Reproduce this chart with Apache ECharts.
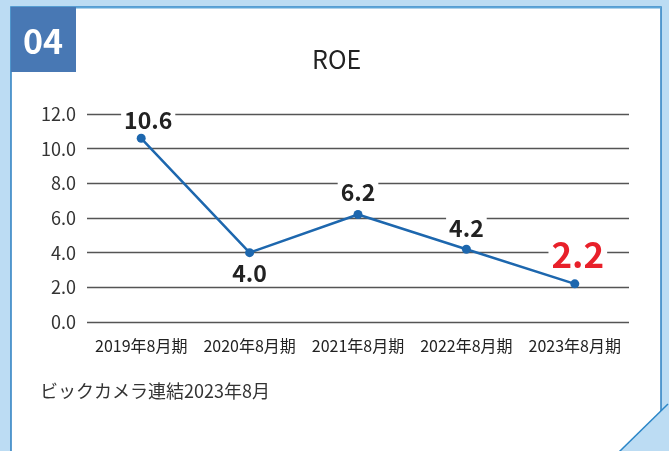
<!DOCTYPE html>
<html lang="ja">
  <head>
    <meta charset="UTF-8" />
    <title>ROE</title>
    <script src="https://cdn.jsdelivr.net/npm/echarts@6/dist/echarts.min.js"></script>
    <style>
      html, body { margin: 0; padding: 0; background: #bcdcf3; }
      #main { width: 669px; height: 451px; }
    </style>
  </head>
  <body>
    <div id="main"></div>
    <script>
      const categories = ['2019年8月期', '2020年8月期', '2021年8月期', '2022年8月期', '2023年8月期'];
      const roe = [10.6, 4.0, 6.2, 4.2, 2.2];
      const yTicks = { min: 0, max: 12, interval: 2 };

      const font = '"Noto Sans CJK JP", "Noto Sans", sans-serif';
      const lineColor = '#1d67ae';

      // label placement per point (top or bottom), last one highlighted
      const labelPos = ['top', 'bottom', 'top', 'top', 'top'];
      const labelDist = [2, 4.5, 6, 4.5, 7];
      const labelShift = [[7, 0], [0, 0], [0, 0], [0, 0], [3, 0]];

      const points = roe.map((v, i) => {
        const last = i === roe.length - 1;
        return {
          value: v,
          label: {
            show: true,
            position: labelPos[i],
            distance: labelDist[i],
            offset: labelShift[i],
            formatter: (p) => p.value.toFixed(1),
            fontFamily: font,
            fontWeight: 'bold',
            fontSize: last ? 35 : 23,
            color: last ? '#e8202a' : '#222',
            backgroundColor: '#fff',
            padding: [0, 3],
            lineHeight: last ? 36 : 24
          }
        };
      });

      const chart = echarts.init(document.getElementById('main'));
      chart.setOption({
        animation: false,
        title: {
          text: 'ROE',
          left: 307,
          top: 42,
          textStyle: { fontFamily: font, fontWeight: 'normal', fontSize: 25, color: '#222' }
        },
        grid: { left: 87, right: 40, top: 114, bottom: 129 },
        xAxis: {
          type: 'category',
          data: categories,
          boundaryGap: true,
          axisLine: { show: false },
          axisTick: { show: false },
          axisLabel: { fontFamily: font, fontSize: 16, color: '#222', margin: 16, interval: 0 }
        },
        yAxis: {
          type: 'value',
          min: yTicks.min,
          max: yTicks.max,
          interval: yTicks.interval,
          axisLine: { show: false },
          axisTick: { show: false },
          axisLabel: {
            fontFamily: font,
            fontSize: 18,
            color: '#333',
            margin: 11,
            formatter: (v) => v.toFixed(1)
          },
          splitLine: { lineStyle: { color: '#555', width: 1.3 } }
        },
        series: [
          {
            type: 'line',
            data: points,
            symbol: 'circle',
            symbolSize: 9,
            lineStyle: { color: lineColor, width: 2.5 },
            itemStyle: { color: lineColor },
            z: 3
          }
        ],
        graphic: [
          {
            type: 'rect',
            z: -10,
            shape: { x: 11, y: 7, width: 650, height: 470 },
            style: { fill: '#fff', stroke: '#2b7fc1', lineWidth: 1.5 }
          },
          {
            type: 'line',
            z: -9,
            shape: { x1: 11, y1: 7.5, x2: 661, y2: 7.5 },
            style: { stroke: '#5ea6d8', lineWidth: 2 }
          },
          {
            type: 'polygon',
            z: 10,
            shape: { points: [[619, 452], [670, 452], [670, 402]] },
            style: { fill: '#bcdcf3' }
          },
          {
            type: 'line',
            z: 11,
            shape: { x1: 619, y1: 452, x2: 668, y2: 404 },
            style: { stroke: '#2b86c8', lineWidth: 1.5 }
          },
          {
            type: 'rect',
            z: 5,
            shape: { x: 11, y: 7, width: 65, height: 65 },
            style: { fill: '#4878b4' }
          },
          {
            type: 'text',
            z: 6,
            x: 43,
            y: 41,
            style: {
              text: '04',
              fill: '#fff',
              font: 'bold 34px ' + font,
              align: 'center',
              verticalAlign: 'middle'
            }
          },
          {
            type: 'text',
            x: 40,
            y: 391,
            style: {
              text: 'ビックカメラ連結2023年8月',
              fill: '#333',
              font: '18px ' + font,
              verticalAlign: 'middle'
            }
          }
        ]
      });
    </script>
  </body>
</html>
